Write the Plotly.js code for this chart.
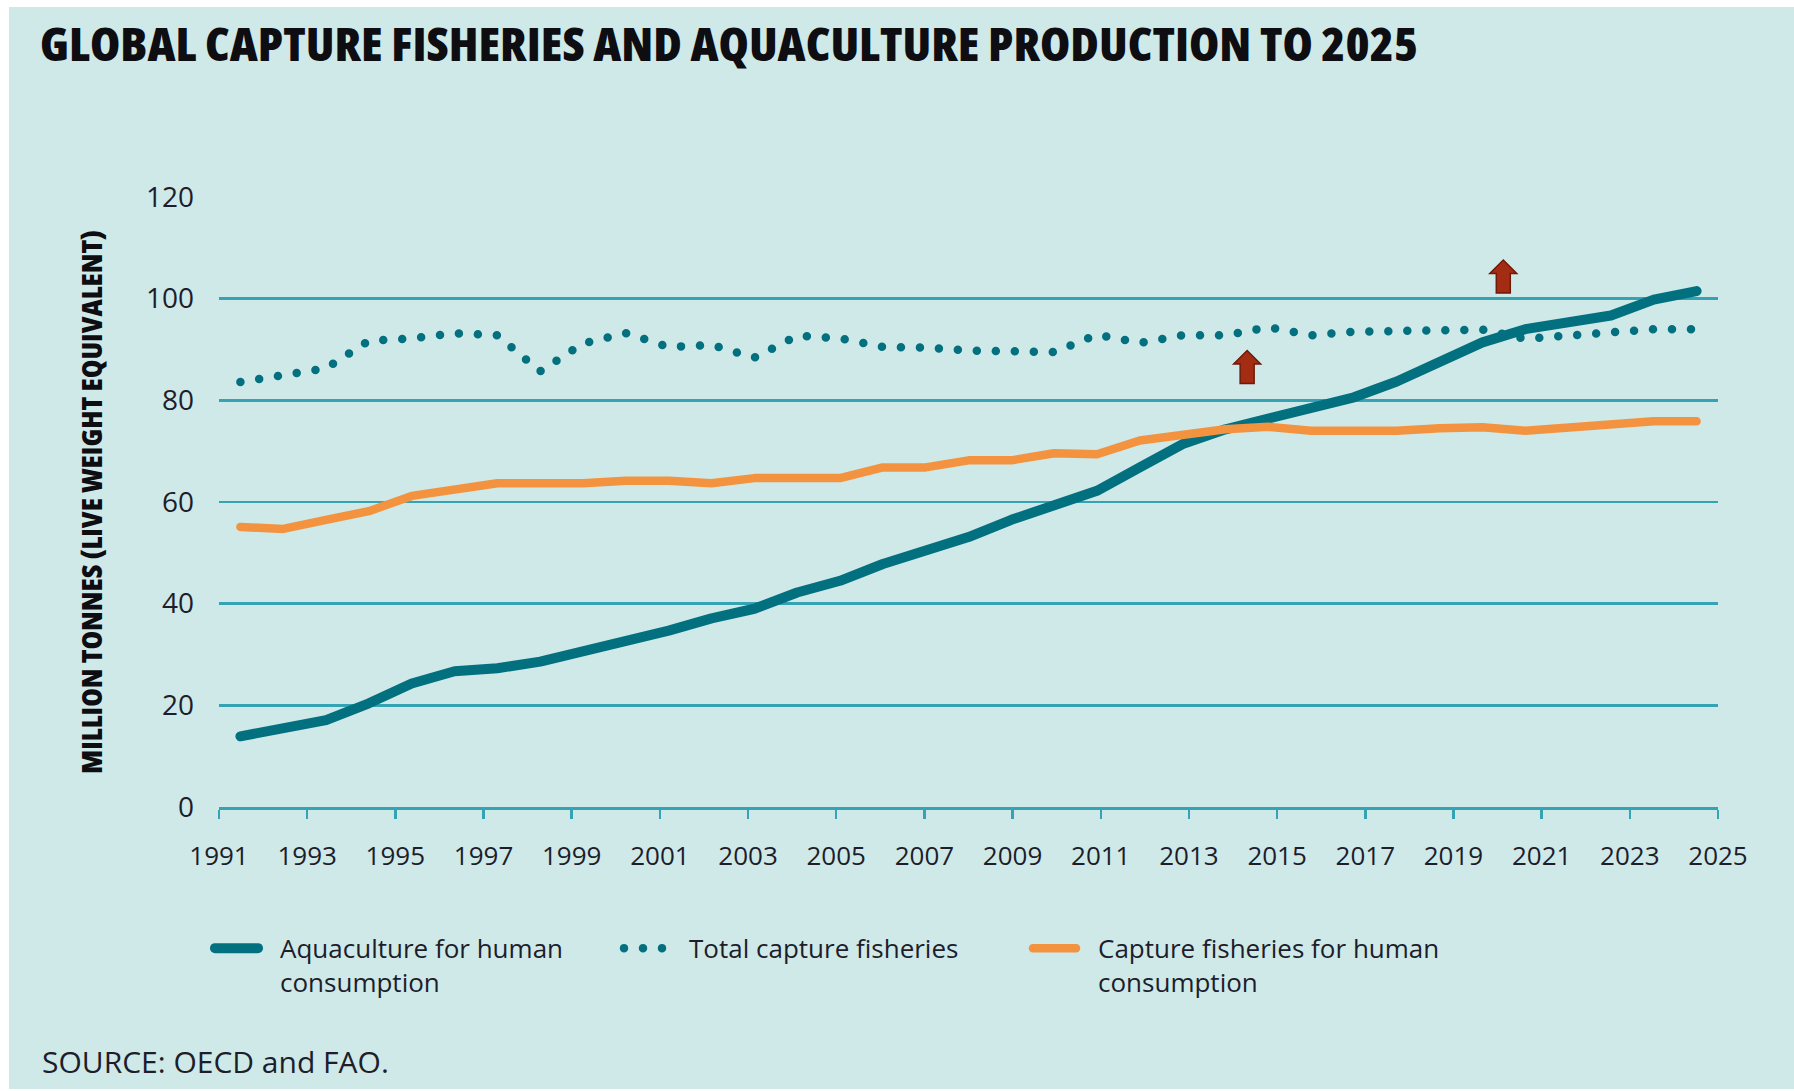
<!DOCTYPE html>
<html>
<head>
<meta charset="utf-8">
<script src="https://cdn.plot.ly/plotly-3.0.1.min.js"></script>
<style>
html, body { margin: 0; padding: 0; background: #ffffff; }
#chart { position: absolute; left: 9px; top: 7px; width: 1785px; height: 1082px; }
#chart .js-line { stroke-linecap: round !important; stroke-linejoin: round !important; }
#chart .legend .js-line { d: path("M5,0h43"); }
#chart .legend .scrollbox { clip-path: none !important; }
#chart .gtitle, #chart .ytitle { font-stretch: 75%; }
</style>
</head>
<body>
<div id="chart"></div>
<script>
// ---- data (million tonnes, live weight equivalent) ----
const years = ['1991','1992','1993','1994','1995','1996','1997','1998','1999','2000',
               '2001','2002','2003','2004','2005','2006','2007','2008','2009','2010',
               '2011','2012','2013','2014','2015','2016','2017','2018','2019','2020',
               '2021','2022','2023','2024','2025'];

const aquaculture = [13.9, 15.5, 17.1, 20.4, 24.3, 26.7, 27.3, 28.6, 30.6, 32.2,
                     34.7, 37.1, 39.0, 42.2, 44.5, 47.8, 50.2, 53.1, 56.5, 59.6,
                     62.2, 66.8, 71.4, 74.3, 76.4, 78.4, 80.6, 83.7, 87.3, 91.4,
                     94.0, 95.3, 96.7, 99.8, 101.5];

const totalCapture = [83.6, 84.8, 86.3, 91.7, 92.2, 93.2, 92.8, 85.7, 91.2, 93.2,
                      90.5, 90.9, 88.4, 92.7, 92.2, 90.5, 90.4, 89.8, 89.7, 89.5,
                      92.9, 91.3, 92.8, 92.8, 94.4, 92.8, 93.5, 93.5, 93.5, 93.9,
                      92.1, 92.8, 93.4, 94.0, 94.0];

const captureHuman = [55.1, 54.7, 56.5, 58.2, 61.2, 62.6, 63.7, 63.7, 63.7, 64.2,
                      64.2, 63.7, 64.7, 64.7, 64.7, 66.8, 66.8, 68.2, 68.2, 69.6,
                      69.4, 72.1, 73.2, 74.3, 74.8, 74.0, 74.0, 74.0, 74.5, 74.7,
                      74.0, 74.7, 75.3, 75.9, 75.9];

const tickYears = [1991, 1993, 1995, 1997, 1999, 2001, 2003, 2005, 2007,
                   2009, 2011, 2013, 2015, 2017, 2019, 2021, 2023, 2025];
const yTicks = [0, 20, 40, 60, 80, 100, 120];

const seriesNames = ['Aquaculture for human<br>consumption',
                     'Total capture fisheries',
                     'Capture fisheries for human<br>consumption'];

// up-arrow markers (year position, value at arrow base)
const arrowYears = [2014.32, 2020.13];
const arrowBases = [83.3, 101.1];

// ---- styles ----
const BG = '#cfe9e9';
const GRID = '#35a3b3';
const TEAL = '#03707f';
const ORANGE = '#f3933f';
const TEXT = '#1d1d2b';
const TICKFONT = 'Open Sans, Lato, sans-serif';
const BOLDFONT = 'Open Sans, Noto Sans, sans-serif';

const traces = [
  { name: seriesNames[0], x: years, y: aquaculture, xaxis: 'x2', yaxis: 'y',
    type: 'scatter', mode: 'lines', line: { color: TEAL, width: 10 }, hoverinfo: 'skip' },
  { name: seriesNames[1], x: years, y: totalCapture, xaxis: 'x2', yaxis: 'y',
    type: 'scatter', mode: 'lines', line: { color: TEAL, width: 8.5, dash: '0px,19px' }, hoverinfo: 'skip' },
  { name: seriesNames[2], x: years, y: captureHuman, xaxis: 'x2', yaxis: 'y',
    type: 'scatter', mode: 'lines', line: { color: ORANGE, width: 8.5 }, hoverinfo: 'skip' }
];

const arrowPath = 'M-7,0 L7,0 L7,19.5 L13.5,19.5 L0,33 L-13.5,19.5 L-7,19.5 Z';
const shapes = arrowYears.map((yr, i) => ({
  type: 'path', xref: 'x', yref: 'y',
  xsizemode: 'pixel', ysizemode: 'pixel',
  xanchor: yr, yanchor: arrowBases[i],
  path: arrowPath,
  fillcolor: '#a32c13', line: { color: '#6e1a0b', width: 1.5 }, layer: 'above'
}));

const layout = {
  width: 1785, height: 1082,
  paper_bgcolor: BG, plot_bgcolor: BG,
  margin: { l: 210, r: 76, t: 190, b: 282, pad: 0 },
  title: {
    text: 'GLOBAL CAPTURE FISHERIES AND AQUACULTURE PRODUCTION TO 2025',
    font: { family: BOLDFONT, size: 46, color: '#0d0d12', weight: 800 },
    xref: 'container', x: 0.0174, xanchor: 'left',
    yref: 'container', y: 0.9653, yanchor: 'middle'
  },
  xaxis: {
    type: 'linear', range: [1991, 2025],
    tickmode: 'array', tickvals: tickYears, ticktext: tickYears.map(String),
    ticks: 'outside', ticklen: 9, tickwidth: 2.5, tickcolor: GRID,
    showline: true, linecolor: GRID, linewidth: 3,
    showgrid: false, zeroline: false,
    tickfont: { family: TICKFONT, size: 26, color: TEXT },
    ticklabelstandoff: 15, fixedrange: true
  },
  xaxis2: { type: 'category', overlaying: 'x', range: [-0.5, 34.5], visible: false, fixedrange: true },
  yaxis: {
    range: [0, 120], tickmode: 'array', tickvals: yTicks,
    showgrid: true, gridcolor: GRID, gridwidth: 2.5,
    zeroline: false, showline: false, ticks: '',
    tickfont: { family: TICKFONT, size: 28, color: TEXT },
    ticklabelstandoff: 24, fixedrange: true,
    automargin: true,
    title: {
      text: 'MILLION TONNES (LIVE WEIGHT EQUIVALENT)',
      font: { family: BOLDFONT, size: 29, color: '#0d0d12', weight: 800 },
      standoff: 34
    }
  },
  showlegend: true,
  legend: {
    orientation: 'h', x: -0.006, xanchor: 'left', y: -0.193, yanchor: 'top',
    font: { family: TICKFONT, size: 26, color: TEXT },
    bgcolor: 'rgba(0,0,0,0)', itemwidth: 60,
    entrywidth: 334, entrywidthmode: 'pixels',
    valign: 'top', traceorder: 'normal'
  },
  annotations: [{
    text: 'SOURCE: OECD and FAO.', xref: 'paper', yref: 'paper',
    x: -0.1194, y: -0.4172, xanchor: 'left', yanchor: 'middle',
    showarrow: false, font: { family: TICKFONT, size: 30, color: TEXT }
  }],
  shapes: shapes
};

// fit the condensed headline texts to the width they take in the source
const titleLength = 1378;
const yTitleLength = 544;
function fitText(el, len) {
  if (!el) return;
  el.setAttribute('textLength', len);
  el.setAttribute('lengthAdjust', 'spacingAndGlyphs');
}

Plotly.newPlot('chart', traces, layout, { displayModeBar: false, staticPlot: true })
  .then(gd => {
    fitText(gd.querySelector('.gtitle'), titleLength);
    fitText(gd.querySelector('.ytitle'), yTitleLength);
  });
</script>
</body>
</html>
